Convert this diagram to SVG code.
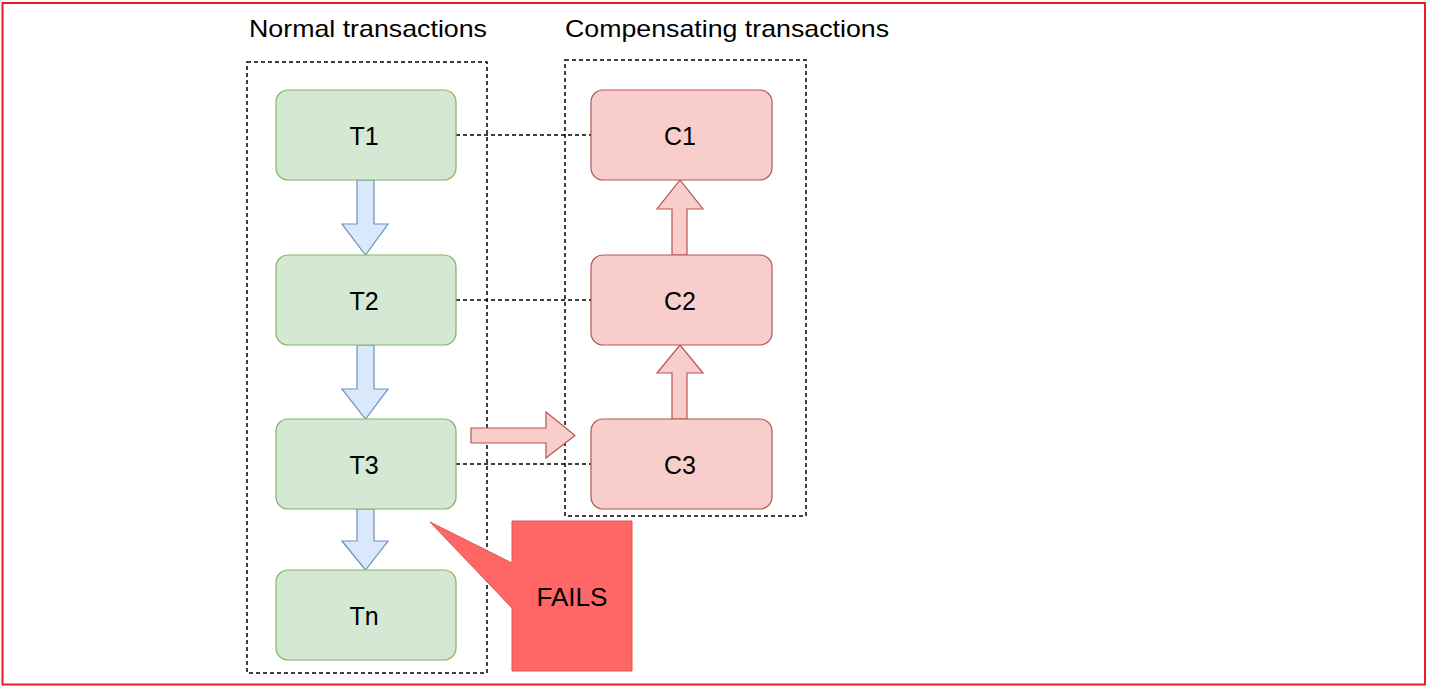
<svg xmlns="http://www.w3.org/2000/svg" width="1429" height="688" viewBox="0 0 1429 688">
<style>
text{font-family:"Liberation Sans",Arial,sans-serif;fill:#000;text-anchor:middle;dominant-baseline:central}
.title{font-size:24px}
.lbl{font-size:25px}
.grp{fill:none;stroke:#000;stroke-width:1.5;stroke-dasharray:4 3}
.t{fill:#d5e8d4;stroke:#82b366;stroke-width:1.2}
.c{fill:#f8cecc;stroke:#b85450;stroke-width:1.2}
.ba{fill:#dae8fc;stroke:#6c8ebf;stroke-width:1.2}
.ra{fill:#f8cecc;stroke:#b85450;stroke-width:1.2}
.dl{fill:none;stroke:#000;stroke-width:1.5;stroke-dasharray:4 3}
</style>
<rect x="2.5" y="3" width="1422.5" height="681.5" fill="#fff" stroke="#ed1c24" stroke-width="2"/>
<g id="group-normal">
<rect class="grp" x="247" y="62" width="240" height="611"/>
<text class="title" x="368" y="28" textLength="238" lengthAdjust="spacingAndGlyphs">Normal transactions</text>
</g>
<g id="group-compensating">
<rect class="grp" x="565" y="60" width="241" height="456"/>
<text class="title" x="727" y="28" textLength="324" lengthAdjust="spacingAndGlyphs">Compensating transactions</text>
</g>
<g id="connectors">
<line class="dl" x1="456" y1="135" x2="591" y2="135"/>
<line class="dl" x1="456" y1="300" x2="591" y2="300"/>
<line class="dl" x1="456" y1="464" x2="591" y2="464"/>
<polygon class="ba" points="357,180 374,180 374,224 388,224 365.5,255 342,224 357,224"/>
<polygon class="ba" points="357,345 374,345 374,389 388,389 365.5,419 342,389 357,389"/>
<polygon class="ba" points="357,509 374,509 374,541 388,541 365.5,570 342,541 357,541"/>
<polygon class="ra" points="672,419 687,419 687,373 703,373 680,345 657,373 672,373"/>
<polygon class="ra" points="672,255 687,255 687,209 703,209 680,180 657,209 672,209"/>
<polygon class="ra" points="471,428 546,428 546,412 575,435.5 546,458 546,443 471,443"/>
</g>
<g id="T1"><rect class="t" x="276" y="90" width="180" height="90" rx="12"/><text class="lbl" x="364" y="136">T1</text></g>
<g id="T2"><rect class="t" x="276" y="255" width="180" height="90" rx="12"/><text class="lbl" x="364" y="301">T2</text></g>
<g id="T3"><rect class="t" x="276" y="419" width="180" height="90" rx="12"/><text class="lbl" x="364" y="465">T3</text></g>
<g id="Tn"><rect class="t" x="276" y="570" width="180" height="90" rx="12"/><text class="lbl" x="364" y="616">Tn</text></g>
<g id="C1"><rect class="c" x="591" y="90" width="181" height="90" rx="12"/><text class="lbl" x="680" y="136">C1</text></g>
<g id="C2"><rect class="c" x="591" y="255" width="181" height="90" rx="12"/><text class="lbl" x="680" y="301">C2</text></g>
<g id="C3"><rect class="c" x="591" y="419" width="181" height="90" rx="12"/><text class="lbl" x="680" y="465">C3</text></g>
<g id="fails">
<polygon points="512,521 632,521 632,671 512,671 512,608 430,522 512,563" fill="#ff6666" stroke="#e05555" stroke-width="1"/>
<text class="lbl" x="572" y="597" font-size="24" textLength="71" lengthAdjust="spacingAndGlyphs">FAILS</text>
</g>
</svg>
